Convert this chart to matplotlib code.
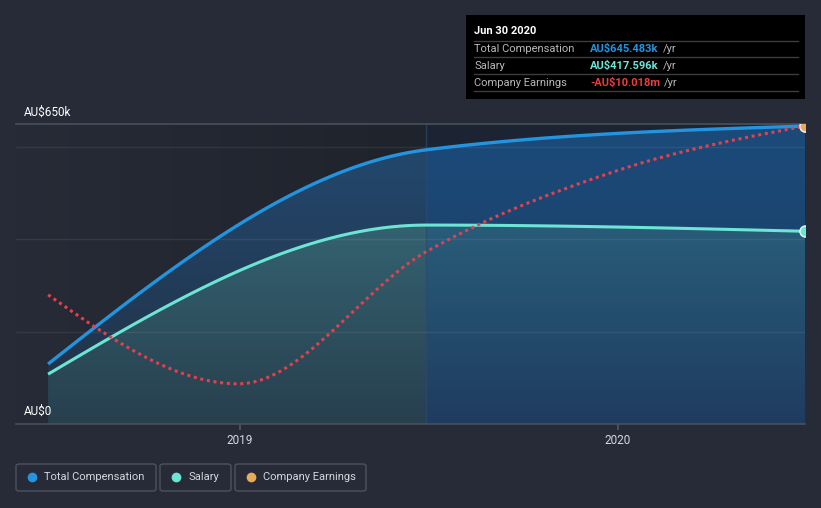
import numpy as np
import matplotlib
matplotlib.use('Agg')
import matplotlib.pyplot as plt
import matplotlib.dates as mdates
from matplotlib.colors import LinearSegmentedColormap
from matplotlib.path import Path
from matplotlib.patches import Rectangle, FancyBboxPatch
from matplotlib.lines import Line2D
from datetime import datetime

plt.rcParams['font.family'] = ['Roboto', 'DejaVu Sans']

# data (AU$k for compensation, AU$m for earnings)
comp_dates = ['2018-06-30', '2019-06-30', '2020-06-30']
total_comp = [130.0, 594.0, 645.483]
salary = [108.0, 431.0, 417.596]
earn_dates = ['2018-06-30', '2018-12-31', '2019-06-30', '2019-12-31', '2020-06-30']
earnings = [-26.9, -35.8, -22.6, -14.5, -10.018]
tick_years = ['2019', '2020']
legend_names = ['Total Compensation', 'Salary', 'Company Earnings']

bg = '#262b37'
c_total = '#2394df'
c_salary = '#6ce5d4'
c_earn = '#e2414d'
c_earn_dot = '#e6ac5c'
c_text = '#d3d7de'
c_grey = '#4a505b'


def to_num(ds):
    return np.array([mdates.date2num(datetime.strptime(d, '%Y-%m-%d')) for d in ds])


def monotone(xs, ys, n=60):
    # monotone cubic like d3.curveMonotoneX
    xs = np.asarray(xs, float)
    ys = np.asarray(ys, float)
    h = np.diff(xs)
    s = np.diff(ys) / h
    k = len(xs)
    t = np.zeros(k)
    for i in range(1, k - 1):
        p = (s[i - 1] * h[i] + s[i] * h[i - 1]) / (h[i - 1] + h[i])
        t[i] = (np.sign(s[i - 1]) + np.sign(s[i])) * min(abs(s[i - 1]), abs(s[i]), 0.5 * abs(p))
    t[0] = (3 * s[0] - t[1]) / 2
    t[-1] = (3 * s[-1] - t[-2]) / 2
    out_x, out_y = [], []
    for i in range(k - 1):
        u = np.linspace(0, 1, n)
        if i > 0:
            u = u[1:]
        h00 = 2 * u**3 - 3 * u**2 + 1
        h10 = u**3 - 2 * u**2 + u
        h01 = -2 * u**3 + 3 * u**2
        h11 = u**3 - u**2
        out_x.append(xs[i] + u * h[i])
        out_y.append(h00 * ys[i] + h10 * h[i] * t[i] + h01 * ys[i + 1] + h11 * h[i] * t[i + 1])
    return np.concatenate(out_x), np.concatenate(out_y)


def grad_fill(ax, x, top, x0, x1, c_top, c_bot, z):
    m = (x >= x0 - 1e-9) & (x <= x1 + 1e-9)
    xs = x[m]
    verts = np.vstack([np.column_stack([xs, top[m]]),
                       [[xs[-1], 0], [xs[0], 0], [xs[0], top[m][0]]]])
    path = Path(verts, closed=True)
    cmap = LinearSegmentedColormap.from_list('g', [c_bot, c_top])
    im = ax.imshow(np.linspace(0, 1, 200).reshape(-1, 1), cmap=cmap,
                   extent=[x0, x1, 0, 650], origin='lower', aspect='auto',
                   zorder=z, interpolation='bilinear')
    im.set_clip_path(path, ax.transData)


cx = to_num(comp_dates)
ex = to_num(earn_dates)
tx, ty = monotone(cx, total_comp)
sx, sy = monotone(cx, salary)
ecx, ecy = monotone(ex, earnings)

x_left = cx[0] - 31
x_right = cx[-1]
x_mid = cx[1]

fig = plt.figure(figsize=(8.21, 5.08), dpi=100, facecolor=bg)
ax = fig.add_axes([16 / 821, 84 / 508, 789 / 821, 300 / 508])
ax.set_facecolor(bg)

# background regions
shade = LinearSegmentedColormap.from_list('s', [bg, '#1f232b'])
ax.imshow(np.linspace(0, 1, 200).reshape(1, -1), cmap=shade, extent=[x_left, x_mid, 0, 650],
          aspect='auto', zorder=0)
ax.axvspan(x_mid, x_right, color='#1c2434', zorder=0, lw=0)

# gradient fills
grad_fill(ax, tx, ty, cx[0], x_mid, '#234a70', '#213044', 1)
grad_fill(ax, tx, ty, x_mid, x_right, '#1b4b7a', '#1d3b60', 1)
grad_fill(ax, sx, sy, cx[0], x_mid, '#3a7482', '#283f4e', 2)
grad_fill(ax, sx, sy, x_mid, x_right, '#2e6d86', '#1f3c60', 2)

ax.axvline(x_mid, color='#2d4a70', lw=1, alpha=0.7, zorder=2.5)
for v in [200, 400, 600]:
    ax.axhline(v, color='white', alpha=0.07, lw=1, zorder=3)

ax.plot(tx, ty, color=c_total, lw=2.4, zorder=5, solid_capstyle='butt')
ax.plot(sx, sy, color=c_salary, lw=2.2, zorder=5, solid_capstyle='butt')
ax.plot(cx[-1], total_comp[-1], 'o', ms=8, mfc=c_total, mec='#e8eef5', mew=1, zorder=6)
ax.plot(cx[-1], salary[-1], 'o', ms=8, mfc=c_salary, mec='#e8f8f6', mew=1, zorder=6)

ax.set_xlim(x_left, x_right)
ax.set_ylim(0, 650)
ax.set_yticks([])
ax.set_xticks(to_num(['2019-01-01', '2020-01-01']))
ax.set_xticklabels(tick_years)
ax.tick_params(axis='x', color=c_grey, length=4, width=1.5, labelcolor=c_text, labelsize=8.5, pad=3)
for sp in ['left', 'right']:
    ax.spines[sp].set_visible(False)
for sp in ['top', 'bottom']:
    ax.spines[sp].set_color(c_grey)
    ax.spines[sp].set_linewidth(1.2)

ax2 = ax.twinx()
ax2.set_ylim(earnings[-1] - 29.8, earnings[-1] + 0.2)
ax2.plot(ecx, ecy, color=c_earn, lw=2.2, linestyle=(0, (1, 1.2)), zorder=5)
ax2.plot(ex[-1], earnings[-1], 'o', ms=8, mfc=c_earn_dot, mec='#f4eee4', mew=1, zorder=6)
ax2.axis('off')
ax2.set_xlim(x_left, x_right)

fig.text(24 / 821, 1 - 112 / 508, 'AU$650k', color='white', fontsize=8.5, va='center')
fig.text(24 / 821, 1 - 411 / 508, 'AU$0', color='white', fontsize=8.5, va='center')

# tooltip box
fig.add_artist(Rectangle((466 / 821, 1 - 99 / 508), 339 / 821, 84 / 508,
                         transform=fig.transFigure, facecolor='black', edgecolor='none'))
fig.text(474 / 821, 1 - 31 / 508, 'Jun 30 2020', color='white', fontsize=8, weight='bold', va='center')
for yy in [40.5, 57.3, 74.3, 91]:
    fig.add_artist(Line2D([474 / 821, 798 / 821], [1 - yy / 508] * 2, color='#3d3d3d', lw=1,
                          transform=fig.transFigure))
rows = [('Total Compensation', 'AU$%.3fk' % total_comp[-1], c_total),
        ('Salary', 'AU$%.3fk' % salary[-1], c_salary),
        ('Company Earnings', '-AU$%.3fm' % abs(earnings[-1]), '#ee3b3b')]
vals = []
for i, (lab, val, col) in enumerate(rows):
    yy = 1 - (49 + 16.8 * i) / 508
    fig.text(474 / 821, yy, lab, color='#b8b8b8', fontsize=8, va='center')
    vals.append((fig.text(590 / 821, yy, val, color=col, fontsize=8, weight='bold', va='center'), yy))

# legend
boxes = [(16, 156), (160, 231), (235, 366)]
for (x0, x1), name, col in zip(boxes, legend_names, [c_total, c_salary, c_earn_dot]):
    fig.add_artist(FancyBboxPatch((x0 / 821, 1 - 491 / 508), (x1 - x0) / 821, 27 / 508,
                                  boxstyle='round,pad=0,rounding_size=0.004',
                                  transform=fig.transFigure, facecolor='none',
                                  edgecolor='#4d535e', lw=1))
    fig.add_artist(Line2D([(x0 + 16) / 821], [1 - 477 / 508], marker='o', ms=7, mfc=col, mec='none',
                          transform=fig.transFigure))
    fig.text((x0 + 28) / 821, 1 - 477 / 508, name, color=c_text, fontsize=8, va='center')

fig.canvas.draw()
r = fig.canvas.get_renderer()
for t, yy in vals:
    bb = t.get_window_extent(r)
    fig.text((bb.x1 + 4) / 821, yy, '/yr', color='#b8b8b8', fontsize=8, va='center')

fig.savefig('out.png', dpi=100, facecolor=bg)
